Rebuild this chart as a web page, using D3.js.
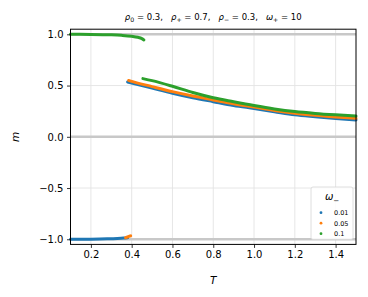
<!DOCTYPE html>
<html>
<head>
<meta charset="utf-8">
<script src="https://cdn.jsdelivr.net/npm/d3@7"></script>
<style>
body { margin: 0; background: #fff; }
svg { font-family: "DejaVu Sans", sans-serif; }
</style>
</head>
<body>
<svg id="chart" width="368" height="297"></svg>
<script>
// series labels and colours
const series = ["0.01", "0.05", "0.1"];
const colors = ["#1f77b4", "#ff7f0e", "#2ca02c"];

// each series has a low (ordered) branch and a high branch, [T, m]
const lowBranch = [
    [[0.1, -1.0], [0.2, -0.999], [0.28, -0.996], [0.33, -0.992], [0.36, -0.988], [0.38, -0.984]],
    [[0.37, -0.985], [0.38, -0.978], [0.39, -0.97], [0.395, -0.966]],
    [[0.1, 1.0], [0.2, 0.999], [0.3, 0.995], [0.35, 0.99], [0.4, 0.981], [0.43, 0.971], [0.45, 0.958], [0.46, 0.945]]
];
const highBranch = [
    [[0.38, 0.535], [0.4, 0.525], [0.5, 0.475], [0.6, 0.425], [0.7, 0.381], [0.8, 0.343], [0.9, 0.306], [1.0, 0.276], [1.1, 0.245], [1.2, 0.215], [1.3, 0.196], [1.4, 0.179], [1.5, 0.164]],
    [[0.385, 0.55], [0.4, 0.541], [0.5, 0.49], [0.6, 0.441], [0.7, 0.398], [0.8, 0.36], [0.9, 0.322], [1.0, 0.29], [1.1, 0.257], [1.2, 0.23], [1.3, 0.21], [1.4, 0.194], [1.5, 0.18]],
    [[0.455, 0.568], [0.5, 0.548], [0.6, 0.493], [0.7, 0.432], [0.8, 0.381], [0.9, 0.342], [1.0, 0.305], [1.1, 0.272], [1.2, 0.246], [1.3, 0.228], [1.4, 0.214], [1.5, 0.202]]
];

const xTicks = [0.2, 0.4, 0.6, 0.8, 1.0, 1.2, 1.4];
const yTicks = [-1.0, -0.5, 0.0, 0.5, 1.0];
const refLines = [-1, 0, 1];

const svg = d3.select("#chart");
const mLeft = 70.5, mRight = 356, mTop = 29.2, mBottom = 244.4;

const x = d3.scaleLinear().domain([0.1, 1.5]).range([mLeft, mRight]);
const y = d3.scaleLinear().domain([-1.05, 1.05]).range([mBottom, mTop]);

// grid
const grid = svg.append("g");
grid.selectAll(".gx").data(xTicks).enter().append("line")
    .attr("x1", d => x(d)).attr("x2", d => x(d))
    .attr("y1", mTop).attr("y2", mBottom)
    .attr("stroke", "#e3e3e3").attr("stroke-width", 0.9);
grid.selectAll(".gy").data(yTicks).enter().append("line")
    .attr("x1", mLeft).attr("x2", mRight)
    .attr("y1", d => y(d)).attr("y2", d => y(d))
    .attr("stroke", "#e3e3e3").attr("stroke-width", 0.9);

// reference lines at -1, 0, 1
svg.append("g").selectAll("line").data(refLines).enter().append("line")
    .attr("x1", mLeft).attr("x2", mRight)
    .attr("y1", d => y(d)).attr("y2", d => y(d))
    .attr("stroke", "#c8c8c8").attr("stroke-width", 2.6);

// curves
const line = d3.line().x(d => x(d[0])).y(d => y(d[1])).curve(d3.curveMonotoneX);
const plot = svg.append("g");
series.forEach((s, i) => {
    [lowBranch[i], highBranch[i]].forEach(br => {
        plot.append("path")
            .attr("d", line(br))
            .attr("fill", "none")
            .attr("stroke", colors[i])
            .attr("stroke-width", 3)
            .attr("stroke-linecap", "round");
    });
});

// axes
const xAxis = svg.append("g").attr("transform", `translate(0,${mBottom})`)
    .call(d3.axisBottom(x).tickValues(xTicks).tickFormat(d3.format(".1f")).tickSizeOuter(0).tickSize(3.5).tickPadding(3.5));
const yAxis = svg.append("g").attr("transform", `translate(${mLeft},0)`)
    .call(d3.axisLeft(y).tickValues(yTicks).tickFormat(d => d3.format(".1f")(d).replace("-", "\u2212")).tickSizeOuter(0).tickSize(3.5).tickPadding(3.5));
[xAxis, yAxis].forEach(a => {
    a.select(".domain").remove();
    a.selectAll("text").attr("font-size", 10).attr("fill", "#000").attr("font-family", "DejaVu Sans");
    a.selectAll("line").attr("stroke", "#000").attr("stroke-width", 0.8);
});

// frame
svg.append("rect")
    .attr("x", mLeft).attr("y", mTop)
    .attr("width", mRight - mLeft).attr("height", mBottom - mTop)
    .attr("fill", "none").attr("stroke", "#000").attr("stroke-width", 1);

// axis labels
svg.append("text").attr("x", (mLeft + mRight) / 2).attr("y", 284)
    .attr("text-anchor", "middle").attr("font-size", 10.5).attr("font-style", "italic").text("T");
svg.append("text").attr("transform", `translate(19,${(mTop + mBottom) / 2}) rotate(-90)`)
    .attr("text-anchor", "middle").attr("font-size", 10.5).attr("font-style", "italic").text("m");

// title
const title = svg.append("text").attr("x", (mLeft + mRight) / 2).attr("y", 20)
    .attr("text-anchor", "middle").attr("font-size", 8.5).style("white-space", "pre");
const parts = [
    ["ρ", "0", " = 0.3,   "], ["ρ", "+", " = 0.7,   "], ["ρ", "\u2212", " = 0.3,   "], ["ω", "+", " = 10"]
];
parts.forEach(p => {
    title.append("tspan").attr("font-style", "italic").text(p[0]);
    title.append("tspan").attr("font-size", 6.2).attr("dy", 1.8).text(p[1]);
    title.append("tspan").attr("dy", -1.8).text(p[2]);
});

// legend
const lg = svg.append("g");
lg.append("rect").attr("x", 311).attr("y", 187).attr("width", 42).attr("height", 52.5)
    .attr("rx", 2).attr("fill", "#fff").attr("fill-opacity", 0.85)
    .attr("stroke", "#d6d6d6").attr("stroke-width", 0.8);
const lt = lg.append("text").attr("x", 332).attr("y", 200).attr("text-anchor", "middle").attr("font-size", 10);
lt.append("tspan").attr("font-style", "italic").text("ω");
lt.append("tspan").attr("font-size", 7).attr("dy", 2.5).text("\u2212");
series.forEach((s, i) => {
    const yy = 212.7 + i * 10.5;
    lg.append("circle").attr("cx", 321).attr("cy", yy).attr("r", 1.4).attr("fill", colors[i]);
    lg.append("text").attr("x", 334).attr("y", yy + 2.3).attr("font-size", 6.5).text(s);
});
</script>
</body>
</html>
